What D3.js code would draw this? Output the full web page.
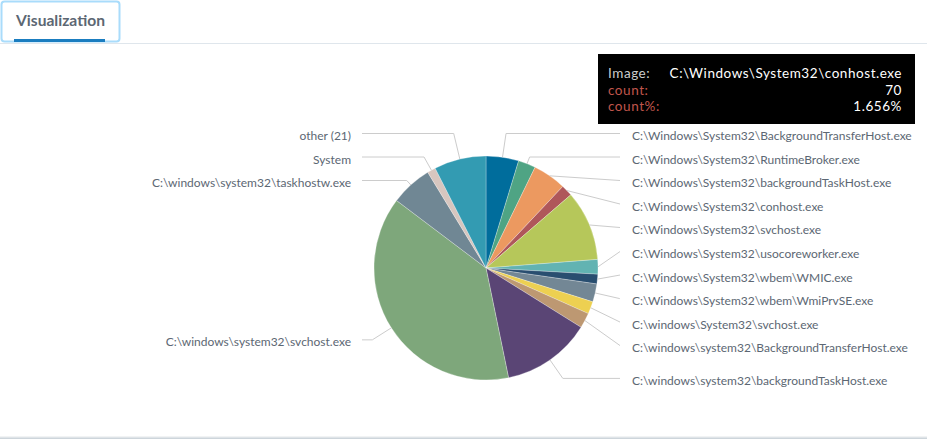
<!DOCTYPE html>
<html>
<head>
<meta charset="utf-8">
<script src="https://cdn.jsdelivr.net/npm/d3@7/dist/d3.min.js"></script>
<style>
  html, body { margin: 0; padding: 0; background: #fff; }
  svg { display: block; }
</style>
</head>
<body>
<svg id="chart" width="927" height="439"></svg>
<script>
// ---- data ----
const categories = [
  "C:\\Windows\\System32\\BackgroundTransferHost.exe",
  "C:\\Windows\\System32\\RuntimeBroker.exe",
  "C:\\Windows\\System32\\backgroundTaskHost.exe",
  "C:\\Windows\\System32\\conhost.exe",
  "C:\\Windows\\System32\\svchost.exe",
  "C:\\Windows\\System32\\usocoreworker.exe",
  "C:\\Windows\\System32\\wbem\\WMIC.exe",
  "C:\\Windows\\System32\\wbem\\WmiPrvSE.exe",
  "C:\\windows\\System32\\svchost.exe",
  "C:\\windows\\system32\\BackgroundTransferHost.exe",
  "C:\\windows\\system32\\backgroundTaskHost.exe",
  "C:\\windows\\system32\\svchost.exe",
  "C:\\windows\\system32\\taskhostw.exe",
  "System",
  "other (21)"
];
const counts = [199, 106, 203, 70, 427, 89, 59, 110, 76, 93, 545, 1628, 254, 51, 317];
const palette = ["#006d9c", "#4fa484", "#ec9960", "#af575a", "#b6c75a", "#62b3b2", "#294e70",
  "#738795", "#edd051", "#bd9872", "#5a4575", "#7ea77b", "#708794", "#d7c6bf", "#339bb2"];
const tabTitle = "Visualization";
const fieldName = "Image";
const hoveredIndex = 3;

// ---- layout ----
const W = 927, H = 439;
const cx = 486, cy = 268, r = 112;
const labelR = 134.5;
const spacing = 23.5;
const rightLineEnd = 620, rightTextX = 632;
const leftLineEnd = 362, leftTextX = 351;
const font = "Lato, 'Open Sans', sans-serif";

const svg = d3.select("#chart");

// tab header
svg.append("line").attr("x1", 0).attr("x2", W).attr("y1", 43.5).attr("y2", 43.5)
  .attr("stroke", "#dfe6ec").attr("stroke-width", 1);
svg.append("rect").attr("x", 1.5).attr("y", 1.5).attr("width", 118).attr("height", 40)
  .attr("rx", 3).attr("fill", "#fff").attr("stroke", "#a9dcfb").attr("stroke-width", 2);
svg.append("rect").attr("x", 14).attr("y", 39).attr("width", 91).attr("height", 3)
  .attr("fill", "#1a7dc0");
svg.append("text").attr("x", 16).attr("y", 26).text(tabTitle)
  .attr("font-family", font).attr("font-weight", 700).attr("font-size", 15.6)
  .attr("fill", "#5c6773");

// bottom border
svg.append("rect").attr("x", 0).attr("y", 436.5).attr("width", W).attr("height", 1)
  .attr("fill", "#e3e7ea");
svg.append("rect").attr("x", 0).attr("y", 437.5).attr("width", W).attr("height", 1.5)
  .attr("fill", "#cdd5db");

// pie
const total = d3.sum(counts);
const pie = d3.pie().sort(null).value(d => d);
const arcs = pie(counts);
const arc = d3.arc().innerRadius(0).outerRadius(r);
const color = d3.scaleOrdinal().domain(d3.range(categories.length)).range(palette);

const g = svg.append("g").attr("transform", `translate(${cx},${cy})`);
g.selectAll("path.slice").data(arcs).enter().append("path")
  .attr("class", "slice")
  .attr("d", arc)
  .attr("fill", (d, i) => color(i))
  .attr("stroke", "rgba(255,255,255,0.45)")
  .attr("stroke-width", 0.6);

// label positions
const items = arcs.map((a, i) => {
  const mid = (a.startAngle + a.endAngle) / 2;
  return {
    i, mid,
    side: mid < Math.PI ? "right" : "left",
    target: cy - labelR * Math.cos(mid),
    ex: cx + r * Math.sin(mid),
    ey: cy - r * Math.cos(mid)
  };
});

function distribute(list, minY, maxY, sp) {
  list.sort((a, b) => a.target - b.target);
  let groups = list.map(d => ({ items: [d], sum: d.target }));
  let changed = true;
  const top = gr => gr.sum / gr.items.length - (gr.items.length - 1) * sp / 2;
  while (changed) {
    changed = false;
    for (let k = 1; k < groups.length; k++) {
      const a = groups[k - 1], b = groups[k];
      if (top(a) + a.items.length * sp > top(b)) {
        a.items = a.items.concat(b.items); a.sum += b.sum;
        groups.splice(k, 1); changed = true; break;
      }
    }
  }
  groups.forEach(gr => {
    const t = top(gr);
    gr.items.forEach((d, k) => d.y = t + k * sp);
  });
  let prev = -Infinity;
  list.forEach(d => { d.y = Math.max(d.y, minY, prev + sp); prev = d.y; });
  let next = Infinity;
  for (let k = list.length - 1; k >= 0; k--) {
    list[k].y = Math.min(list[k].y, maxY, next - sp); next = list[k].y;
  }
}
const rightItems = items.filter(d => d.side === "right");
const leftItems = items.filter(d => d.side === "left");
distribute(rightItems, cy - labelR, cy + labelR, spacing);
distribute(leftItems, cy - labelR, cy + labelR, spacing);

// connectors
const lineGen = d3.line();
items.forEach(d => {
  const right = d.side === "right";
  const endX = right ? rightLineEnd : leftLineEnd;
  const dirX = Math.sin(d.mid), dirY = -Math.cos(d.mid);
  const pts = [[d.ex, d.ey]];
  const t = (d.y - d.ey) / dirY;
  if (isFinite(t) && t >= 0) {
    const bx = d.ex + t * dirX;
    if ((right && bx < endX) || (!right && bx > endX)) pts.push([bx, d.y]);
  }
  pts.push([endX, d.y]);
  svg.append("path").attr("d", lineGen(pts))
    .attr("fill", "none").attr("stroke", "#cccccc").attr("stroke-width", 1);
  svg.append("text")
    .attr("x", right ? rightTextX : leftTextX)
    .attr("y", d.y + 6.5)
    .attr("text-anchor", right ? "start" : "end")
    .attr("font-family", font).attr("font-size", 12)
    .attr("fill", "#5c6773")
    .text(categories[d.i]);
});

// tooltip
const tip = svg.append("g");
tip.append("rect").attr("x", 598).attr("y", 54).attr("width", 317).attr("height", 70)
  .attr("fill", "#000");
const rows = [
  { k: fieldName + ":", v: categories[hoveredIndex], kc: "#cccccc" },
  { k: "count:", v: String(counts[hoveredIndex]), kc: "#c0564c" },
  { k: "count%:", v: d3.format(".3f")(counts[hoveredIndex] / total * 100) + "%", kc: "#c0564c" }
];
rows.forEach((row, k) => {
  const y = 78 + k * 16.5;
  tip.append("text").attr("x", 608).attr("y", y).text(row.k)
    .attr("font-family", font).attr("font-size", 13.5).attr("letter-spacing", 0.55)
    .attr("fill", row.kc);
  tip.append("text").attr("x", 902).attr("y", y).attr("text-anchor", "end").text(row.v)
    .attr("font-family", font).attr("font-size", 13.5).attr("letter-spacing", 0.55)
    .attr("fill", "#ffffff");
});
</script>
</body>
</html>
